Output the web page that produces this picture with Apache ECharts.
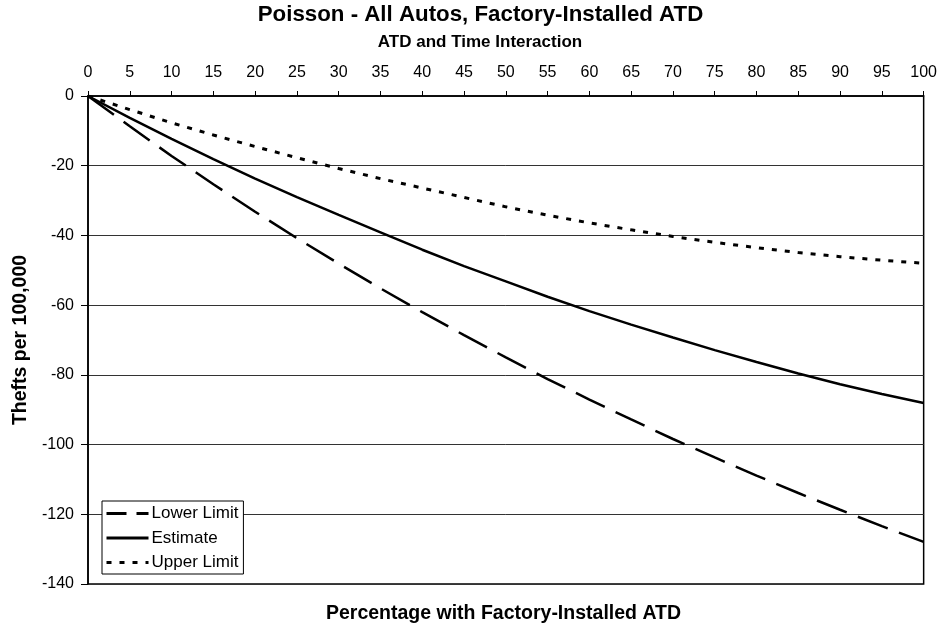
<!DOCTYPE html>
<html>
<head>
<meta charset="utf-8">
<script src="https://cdn.jsdelivr.net/npm/echarts@6/dist/echarts.min.js"></script>
<style>
html,body{margin:0;padding:0;background:#fff;}
#chart{width:940px;height:628px;}
</style>
</head>
<body>
<div id="chart"></div>
<script>
var titleText = 'Poisson - All Autos, Factory-Installed ATD';
var subtitleText = 'ATD and Time Interaction';
var xAxisName = 'Percentage with Factory-Installed ATD';
var yAxisName = 'Thefts per 100,000';
var seriesNames = ['Lower Limit', 'Estimate', 'Upper Limit'];

var xValues = [0,5,10,15,20,25,30,35,40,45,50,55,60,65,70,75,80,85,90,95,100];
var lowerLimit = [0,-8.7,-17.2,-25.3,-33.2,-40.8,-48.1,-55.2,-62.0,-68.6,-75.0,-81.2,-87.1,-92.8,-98.4,-103.7,-108.9,-113.9,-118.7,-123.4,-127.9];
var estimate = [0,-6.3,-12.3,-18.1,-23.7,-29.0,-34.1,-39.1,-44.1,-48.8,-53.2,-57.6,-61.7,-65.6,-69.3,-72.9,-76.3,-79.6,-82.7,-85.5,-88.1];
var upperLimit = [0,-3.9,-7.7,-11.2,-14.5,-17.7,-20.8,-23.7,-26.4,-29.1,-31.8,-34.2,-36.4,-38.4,-40.3,-42.0,-43.5,-44.9,-46.1,-47.1,-48.0];

function pairs(ys){ return xValues.map(function(x,i){ return [x, ys[i]]; }); }

var FONT = "'Liberation Sans', Arial, sans-serif";
var chart = echarts.init(document.getElementById('chart'), null, {renderer:'canvas'});
chart.setOption({
  animation: false,
  backgroundColor: '#fff',
  grid: {left: 88, right: 13, top: 96, bottom: 44, show: true, borderColor: '#000', borderWidth: 1.5, backgroundColor: '#fff'},
  legend: {
    orient: 'vertical', left: 102, top: 501,
    data: [
      {name: seriesNames[0], lineStyle: {width: 3, type: [20, 10]}},
      {name: seriesNames[1], lineStyle: {width: 3, type: 'solid'}},
      {name: seriesNames[2], lineStyle: {width: 3, type: [5, 8]}}
    ],
    itemWidth: 42, itemHeight: 14, itemGap: 7.5,
    padding: [4, 5, 3, 3],
    backgroundColor: '#fff', borderColor: '#000', borderWidth: 1, borderRadius: 0,
    itemStyle: {opacity: 0},
    textStyle: {fontFamily: FONT, fontSize: 17, color: '#000', padding: [0,0,0,-2]}
  },
  graphic: [
    {type: 'text', x: 480.5, y: 15, style: {text: titleText, align: 'center', verticalAlign: 'middle', font: 'bold 22.3px ' + FONT, fill: '#000'}},
    {type: 'text', x: 480, y: 42, style: {text: subtitleText, align: 'center', verticalAlign: 'middle', font: 'bold 17px ' + FONT, fill: '#000'}},
    {type: 'text', x: 503.5, y: 614, style: {text: xAxisName, align: 'center', verticalAlign: 'middle', font: 'bold 19.5px ' + FONT, fill: '#000'}}
  ],
  xAxis: {
    type: 'value', position: 'top', min: 0, max: 100, interval: 5,
    axisLine: {show: true, lineStyle: {color: '#000', width: 1.5}},
    axisTick: {show: true, inside: false, length: 5, lineStyle: {color: '#000'}},
    axisLabel: {fontFamily: FONT, fontSize: 16, color: '#000', margin: 15},
    splitLine: {show: false}
  },
  yAxis: {
    type: 'value', min: -140, max: 0, interval: 20,
    name: yAxisName, nameLocation: 'middle', nameGap: 56, nameRotate: 90,
    nameTextStyle: {fontFamily: FONT, fontSize: 19.5, fontWeight: 'bold', color: '#000'},
    axisLine: {show: true, lineStyle: {color: '#000', width: 1.5}},
    axisTick: {show: true, inside: false, length: 7, lineStyle: {color: '#000'}},
    axisLabel: {fontFamily: FONT, fontSize: 16, color: '#000', margin: 14},
    splitLine: {show: true, lineStyle: {color: '#333', width: 1}}
  },
  series: [
    {name: seriesNames[0], type: 'line', data: pairs(lowerLimit), symbol: 'none', smooth: false,
     lineStyle: {color: '#000', width: 2.5, type: [32, 12]}, itemStyle: {color: '#000'}},
    {name: seriesNames[1], type: 'line', data: pairs(estimate), symbol: 'none', smooth: false,
     lineStyle: {color: '#000', width: 2.5, type: 'solid'}, itemStyle: {color: '#000'}},
    {name: seriesNames[2], type: 'line', data: pairs(upperLimit), symbol: 'none', smooth: false,
     lineStyle: {color: '#000', width: 3, type: [5, 8]}, itemStyle: {color: '#000'}}
  ]
});
</script>
</body>
</html>
